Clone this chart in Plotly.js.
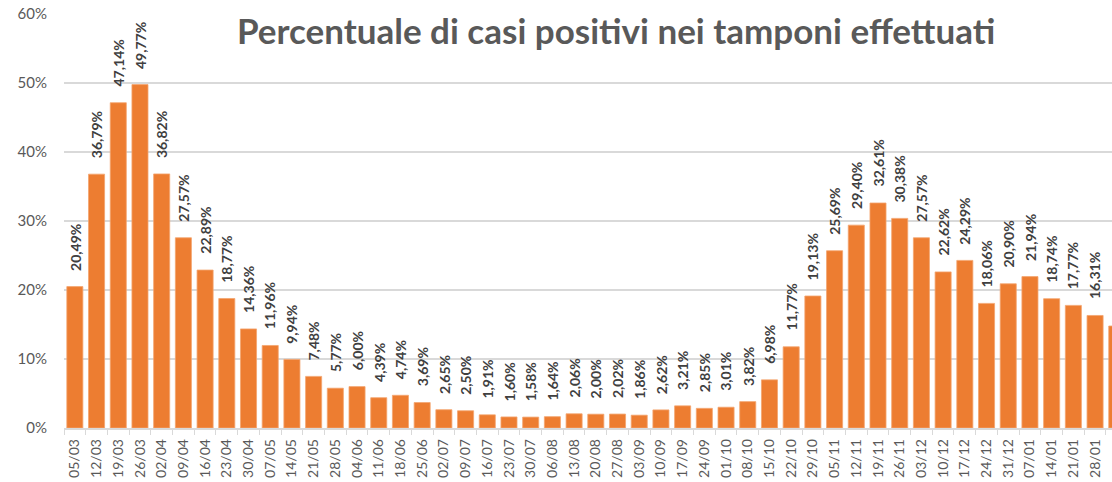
<!DOCTYPE html>
<html>
<head>
<meta charset="utf-8">
<script src="https://cdn.plot.ly/plotly-3.0.1.min.js"></script>
<style>html,body{margin:0;padding:0;background:#fff;}#chart{width:1112px;height:482px;}</style>
</head>
<body>
<div id="chart"></div>
<script>
var weeks = ["05/03","12/03","19/03","26/03","02/04","09/04","16/04","23/04","30/04","07/05","14/05","21/05","28/05","04/06","11/06","18/06","25/06","02/07","09/07","16/07","23/07","30/07","06/08","13/08","20/08","27/08","03/09","10/09","17/09","24/09","01/10","08/10","15/10","22/10","29/10","05/11","12/11","19/11","26/11","03/12","10/12","17/12","24/12","31/12","07/01","14/01","21/01","28/01","04/02"];
var positivePct = [20.49,36.79,47.14,49.77,36.82,27.57,22.89,18.77,14.36,11.96,9.94,7.48,5.77,6.00,4.39,4.74,3.69,2.65,2.50,1.91,1.60,1.58,1.64,2.06,2.00,2.02,1.86,2.62,3.21,2.85,3.01,3.82,6.98,11.77,19.13,25.69,29.40,32.61,30.38,27.57,22.62,24.29,18.06,20.90,21.94,18.74,17.77,16.31,14.78];
var yTicks = [0,10,20,30,40,50,60];
var titleText = "Percentuale di casi positivi nei tamponi effettuati";

var annotations = weeks.map(function(w, i){
  return {
    x: w, y: positivePct[i], xref: 'x', yref: 'y',
    text: positivePct[i].toFixed(2).replace('.', ',') + '%',
    textangle: -90, showarrow: false,
    xanchor: 'center', yanchor: 'bottom', yshift: 14,
    font: {family: 'Lato, "Open Sans", sans-serif', size: 14, color: '#404040', weight: 'bold'}
  };
});

var trace = {
  type: 'bar', x: weeks, y: positivePct,
  marker: {color: '#ED7D31', line: {color: '#F4A46E', width: 0.8}},
  hoverinfo: 'x+y'
};

var layout = {
  width: 1112, height: 482,
  margin: {l: 64, r: 0, t: 14, b: 54, pad: 0},
  paper_bgcolor: '#fff', plot_bgcolor: '#fff',
  bargap: 0.26,
  showlegend: false,
  title: {text: '<b>' + titleText + '</b>', x: 0.554, xanchor: 'center', y: 0.935, yanchor: 'middle',
          font: {family: 'Lato, "Open Sans", sans-serif', size: 35, color: '#595959'}},
  xaxis: {
    type: 'category', range: [-0.5, 47.78],
    tickangle: -90, tickson: 'boundaries', ticks: 'outside', ticklen: 5, tickcolor: '#D9D9D9',
    showline: true, linecolor: '#D9D9D9', linewidth: 1.5,
    showgrid: false, zeroline: false, ticklabelstandoff: 4,
    tickfont: {family: 'Lato, "Open Sans", sans-serif', size: 14, color: '#595959'}
  },
  yaxis: {
    range: [0, 60], tickvals: yTicks, ticktext: yTicks.map(function(v){return v + '%';}),
    showgrid: true, gridcolor: '#D9D9D9', gridwidth: 1.5, zeroline: false, showline: false,
    ticks: '', ticklabelstandoff: 16,
    tickfont: {family: 'Lato, "Open Sans", sans-serif', size: 15, color: '#595959'}
  },
  shapes: [{type: 'rect', xref: 'paper', yref: 'paper', x0: 0.155, x1: 1.01, y0: 0.975, y1: 1.05,
            fillcolor: '#fff', line: {width: 0}, layer: 'above'}],
  annotations: annotations
};

Plotly.newPlot('chart', [trace], layout, {displayModeBar: false, staticPlot: true});
</script>
</body>
</html>
